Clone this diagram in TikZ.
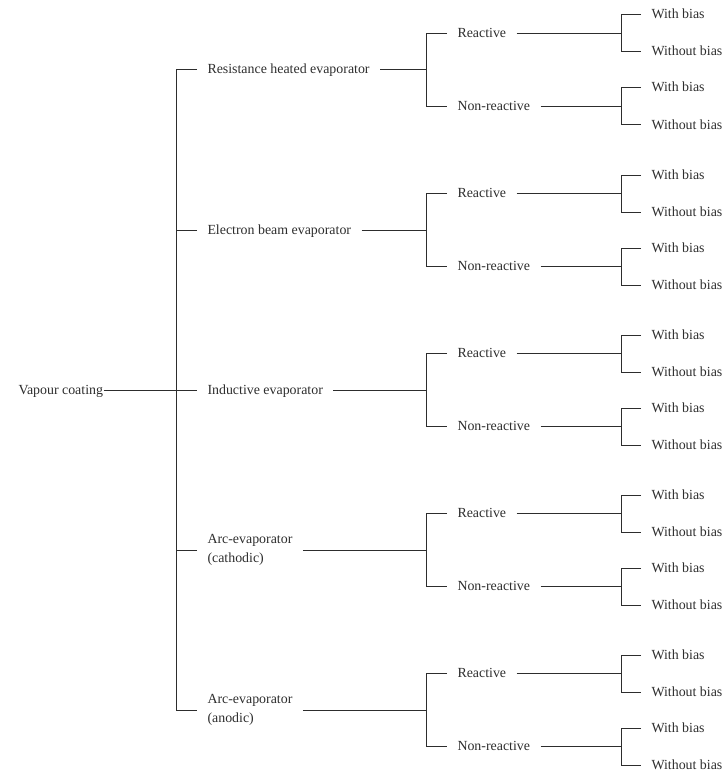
\documentclass[tikz,border=0pt]{standalone}
\usepackage{fontspec}
\setmainfont{Liberation Serif}
\usetikzlibrary{calc}
\definecolor{inkgray}{RGB}{45,45,45}

\tikzset{
  itemlabel/.style={font=\fontsize{13.9}{19}\selectfont, text=inkgray, anchor=west,
    inner xsep=10pt, inner ysep=0pt, text height=8pt, text depth=0pt},
  twoline/.style={font=\fontsize{13.9}{19}\selectfont, text=inkgray, anchor=west,
    inner xsep=10pt, inner ysep=0pt, align=left}
}

\begin{document}
\begin{tikzpicture}[x=1pt, y=-1pt, line width=1pt, draw=inkgray]
  \useasboundingbox (0,0) rectangle (725,773);

  % Bus lines of the three levels
  \coordinate (busA) at (176,0);
  \coordinate (busB) at (426,0);
  \coordinate (busC) at (621,0);

  % Root and evaporator types
  \node[itemlabel, inner xsep=0pt] (coat) at (18,390) {Vapour coating};
  \node[itemlabel] (src1) at (197,70) {Resistance heated evaporator};
  \node[itemlabel] (src2) at (197,230) {Electron beam evaporator};
  \node[itemlabel] (src3) at (197,390) {Inductive evaporator};
  \node[twoline] (src4) at (197,550) {Arc-evaporator\\(cathodic)};
  \node[twoline] (src5) at (197,710) {Arc-evaporator\\(anodic)};

  % Connect root with the evaporator types
  \draw (coat.east) -- (src3.west);
  \draw (src1.west) -- (src1.west -| busA) -- (src5.west -| busA) -- (src5.west);
  \draw (src2.west) -- (src2.west -| busA);
  \draw (src4.west) -- (src4.west -| busA);

  % Process and bias branches of every evaporator
  \foreach \i in {1,...,5} {
    \node[itemlabel] (r\i) at ($(src\i.west -| busB)+(21,-36.5)$) {Reactive};
    \node[itemlabel] (n\i) at ($(src\i.west -| busB)+(21,36.5)$) {Non-reactive};
    \draw (src\i.east) -- (src\i.east -| busB);
    \draw (r\i.west) -- (r\i.west -| busB) |- (n\i.west);
    \foreach \k in {r,n} {
      \node[itemlabel] (\k\i-w) at ($(\k\i.west -| busC)+(20,-18.5)$) {With bias};
      \node[itemlabel] (\k\i-o) at ($(\k\i.west -| busC)+(20,18.5)$) {Without bias};
      \draw (\k\i.east) -- (\k\i.east -| busC);
      \draw (\k\i-w.west) -- (\k\i-w.west -| busC) |- (\k\i-o.west);
    }
  }
\end{tikzpicture}
\end{document}
